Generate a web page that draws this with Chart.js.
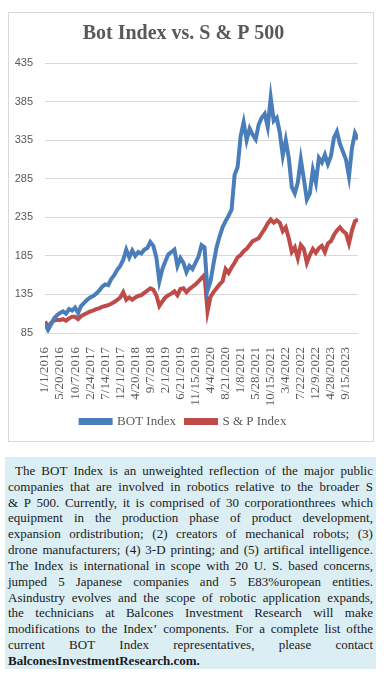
<!DOCTYPE html>
<html>
<head>
<meta charset="utf-8">
<script src="https://cdn.jsdelivr.net/npm/chart.js@4.4.1/dist/chart.umd.min.js"></script>
<style>
  body { margin: 0; background: #fff; }
  #box { position: absolute; left: 8px; top: 12px; width: 364px; height: 428px; border: 1px solid #d9d9d9; }
  #note { position: absolute; left: 5px; top: 457px; width: 365px; height: 205px; padding: 6px 3px 1px 3px;
          background: #dbeef4; font-family: "Liberation Serif", serif; font-size: 13px; color: #1a1a1a; }
  .ln { display: flex; justify-content: space-between; height: 15.83px; line-height: 15.83px; white-space: nowrap; }
  .ln.first { padding-left: 7px; }
  .ln.last { justify-content: flex-start; font-weight: bold; }
</style>
</head>
<body>
<div id="box"><canvas id="chart" width="364" height="428"></canvas></div>
<div id="note"></div>
<script>
// tick labels on the x axis, one every 5 data points (20 weeks)
const tickLabels = ['1/1/2016', '5/20/2016', '10/7/2016', '2/24/2017', '7/14/2017', '12/1/2017',
    '4/20/2018', '9/7/2018', '2/1/2019', '6/21/2019', '11/15/2019', '4/4/2020', '8/21/2020',
    '1/8/2021', '5/28/2021', '10/15/2021', '3/4/2022', '7/22/2022', '12/9/2022', '4/28/2023', '9/15/2023'];

// values, one point every 4 weeks
const botIndex = [97, 89, 96, 104, 108, 111, 113, 110, 116, 114,
    118, 111, 120, 124, 128, 131, 133, 136, 140, 145,
    148, 147, 155, 160, 167, 172, 180, 193, 183, 192,
    185, 190, 188, 193, 195, 203, 198, 183, 152, 168,
    178, 187, 190, 193, 172, 182, 176, 164, 172, 168,
    176, 184, 199, 196, 140, 152, 175, 196, 210, 222,
    230, 237, 245, 290, 300, 340, 358, 335, 350, 342,
    336, 355, 364, 369, 352, 390, 360, 364, 345, 315,
    335, 312, 274, 266, 280, 310, 285, 258, 266, 296,
    280, 312, 306, 316, 304, 314, 338, 346, 330, 320,
    310, 288, 325, 344, 336];

const spIndex = [100, 93, 98, 101, 102, 102, 103, 101, 104, 106,
    106, 103, 107, 109, 111, 113, 114, 116, 117, 119,
    120, 121, 123, 125, 128, 131, 138, 128, 131, 128,
    131, 133, 134, 137, 140, 143, 141, 134, 120, 126,
    131, 134, 136, 139, 134, 142, 143, 138, 142, 145,
    148, 152, 156, 160, 113, 132, 138, 143, 148, 152,
    168, 163, 170, 176, 183, 186, 191, 194, 199, 204,
    206, 208, 214, 220, 227, 232, 228, 231, 228, 217,
    222, 208, 190, 196, 182, 199, 194, 176, 186, 194,
    189, 195, 198, 190, 201, 204, 212, 218, 222, 217,
    214, 201, 218, 230, 232];

const noteLines = [
    'The BOT Index is an unweighted reflection of the major public',
    'companies that are involved in robotics relative to the broader S',
    '& P 500. Currently, it is comprised of 30 corporationthrees which',
    'equipment in the production phase of product development,',
    'expansion ordistribution; (2) creators of mechanical robots; (3)',
    'drone manufacturers; (4) 3-D printing; and (5) artifical intelligence.',
    'The Index is international in scope with 20 U. S. based concerns,',
    'jumped 5 Japanese companies and 5 E83%uropean entities.',
    'Asindustry evolves and the scope of robotic application expands,',
    'the technicians at Balcones Investment Research will make',
    'modifications to the Index\u2019 components. For a  complete list ofthe',
    'current BOT Index representatives, please contact',
    'BalconesInvestmentResearch.com.'
];

const note = document.getElementById('note');
noteLines.forEach((line, i) => {
    const div = document.createElement('div');
    div.className = 'ln' + (i === 0 ? ' first' : '') + (i === noteLines.length - 1 ? ' last' : '');
    if (i === noteLines.length - 1) {
        div.textContent = line;
    } else {
        line.split(/ +/).forEach(w => {
            const s = document.createElement('span');
            s.textContent = w;
            div.appendChild(s);
        });
    }
    note.appendChild(div);
});

const grey = '#595959';
const serif = '"Liberation Serif", serif';

new Chart(document.getElementById('chart'), {
    type: 'line',
    data: {
        datasets: [{
            label: 'BOT Index',
            data: botIndex.map((v, i) => ({ x: i, y: v })),
            borderColor: '#4a7ebb',
            backgroundColor: '#4a7ebb',
            borderWidth: 4,
            pointRadius: 0,
            tension: 0
        }, {
            label: 'S & P Index',
            data: spIndex.map((v, i) => ({ x: i, y: v })),
            borderColor: '#be4b48',
            backgroundColor: '#be4b48',
            borderWidth: 4,
            pointRadius: 0,
            tension: 0
        }]
    },
    options: {
        responsive: false,
        animation: false,
        layout: { padding: { left: 0, right: 15, top: 0, bottom: 3 } },
        plugins: {
            title: {
                display: true,
                text: 'Bot Index vs. S & P 500',
                color: grey,
                font: { family: serif, size: 20, weight: 'bold' },
                padding: { top: 9, bottom: 17 }
            },
            legend: {
                position: 'bottom',
                labels: {
                    color: grey,
                    font: { family: serif, size: 13 },
                    boxWidth: 30,
                    boxHeight: 3,
                    padding: 10
                }
            },
            tooltip: { enabled: false }
        },
        scales: {
            x: {
                type: 'linear',
                min: 0,
                max: 104,
                grid: { display: false },
                border: { display: false },
                afterBuildTicks: (scale) => {
                    scale.ticks = tickLabels.map((_, k) => ({ value: k * 5 }));
                },
                afterFit: (scale) => { scale.height = 72; },
                ticks: {
                    autoSkip: false,
                    minRotation: 90,
                    maxRotation: 90,
                    padding: 6,
                    color: grey,
                    font: { family: serif, size: 13 },
                    callback: (v) => tickLabels[Math.round(v / 5)]
                }
            },
            y: {
                min: 85,
                max: 435,
                grid: { color: '#d9d9d9', drawTicks: false },
                border: { display: false },
                afterFit: (scale) => { scale.width = 36; },
                ticks: {
                    stepSize: 50,
                    padding: 12,
                    color: grey,
                    font: { family: '"Liberation Sans", sans-serif', size: 11 }
                }
            }
        }
    }
});
</script>
</body>
</html>
